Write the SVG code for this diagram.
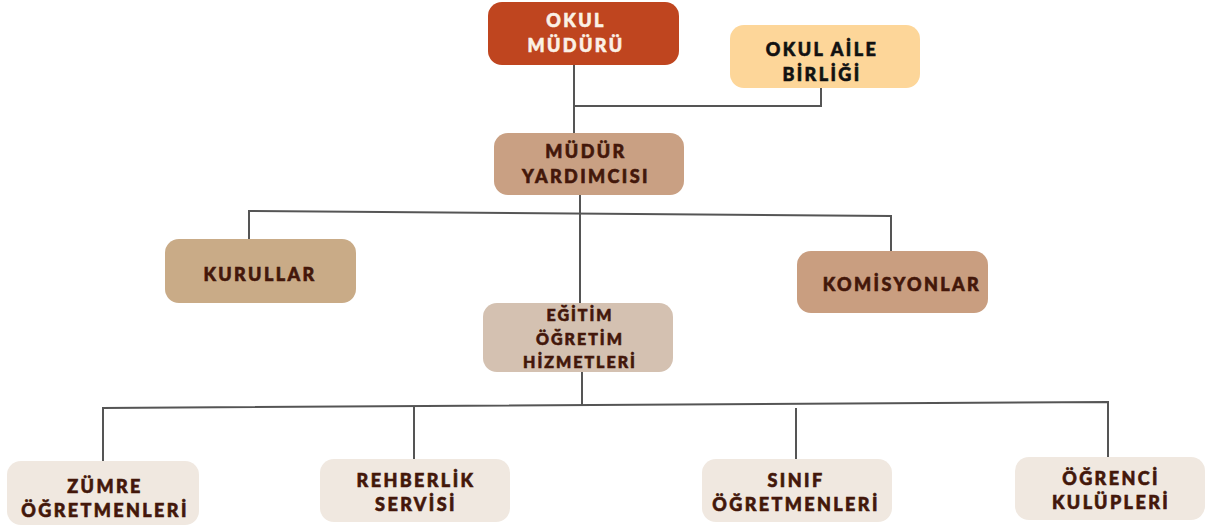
<svg xmlns="http://www.w3.org/2000/svg" width="1207" height="530" viewBox="0 0 1207 530">
<style>
.t{font-family:Lato,"Liberation Sans",sans-serif;font-weight:900;font-size:18px;letter-spacing:2.4px;text-anchor:middle;fill:#43170a;stroke:#43170a;stroke-width:0.6px}
.s{font-size:16px;letter-spacing:2px}
.w{fill:#fbf1e6;stroke:#fbf1e6}
.k{fill:#111;stroke:#111}
.c{fill:none;stroke:#555;stroke-width:2}
</style>
<rect width="1207" height="530" fill="#fff"/>
<g id="connectors">
<polyline class="c" points="574,65 574,106 821,106 821,88"/>
<line class="c" x1="574" y1="106" x2="574" y2="133"/>
<line class="c" x1="580" y1="195" x2="580" y2="303"/>
<polyline class="c" points="249,240 249,211 891,216 891,251"/>
<line class="c" x1="582" y1="372" x2="582" y2="405"/>
<polyline class="c" points="103,461 103,408 1108,402 1108,458"/>
<line class="c" x1="414" y1="406" x2="414" y2="459"/>
<line class="c" x1="796" y1="408" x2="796" y2="459"/>
</g>
<g id="okul-muduru">
<rect x="488" y="2" width="191" height="63" rx="14" fill="#bf451f"/>
<text class="t w" x="576" y="27">OKUL</text>
<text class="t w" x="576" y="52">MÜDÜRÜ</text>
</g>
<g id="okul-aile-birligi">
<rect x="730" y="25" width="190" height="63" rx="14" fill="#fdd699"/>
<text class="t k" x="822" y="56">OKUL AİLE</text>
<text class="t k" x="822" y="81">BİRLİĞİ</text>
</g>
<g id="mudur-yardimcisi">
<rect x="494" y="133" width="190" height="62" rx="14" fill="#c9a083"/>
<text class="t" x="586" y="158">MÜDÜR</text>
<text class="t" x="586" y="183">YARDIMCISI</text>
</g>
<g id="kurullar">
<rect x="165" y="239" width="191" height="64" rx="14" fill="#c9ab87"/>
<text class="t" x="260" y="281">KURULLAR</text>
</g>
<g id="komisyonlar">
<rect x="797" y="251" width="191" height="62" rx="14" fill="#c99e80"/>
<text class="t" x="902" y="291">KOMİSYONLAR</text>
</g>
<g id="egitim-ogretim">
<rect x="483" y="303" width="190" height="69" rx="14" fill="#d4c1b1"/>
<text class="t s" x="580" y="321">EĞİTİM</text>
<text class="t s" x="580" y="345">ÖĞRETİM</text>
<text class="t s" x="580" y="368">HİZMETLERİ</text>
</g>
<g id="zumre">
<rect x="7" y="461" width="192" height="64" rx="14" fill="#f0e8e0"/>
<text class="t" x="105" y="493">ZÜMRE</text>
<text class="t" x="105" y="517">ÖĞRETMENLERİ</text>
</g>
<g id="rehberlik">
<rect x="320" y="459" width="190" height="63" rx="14" fill="#f0e8e0"/>
<text class="t" x="416" y="487">REHBERLİK</text>
<text class="t" x="416" y="511">SERVİSİ</text>
</g>
<g id="sinif">
<rect x="702" y="459" width="190" height="63" rx="14" fill="#f0e8e0"/>
<text class="t" x="796" y="487">SINIF</text>
<text class="t" x="796" y="511">ÖĞRETMENLERİ</text>
</g>
<g id="ogrenci">
<rect x="1015" y="457" width="190" height="63" rx="14" fill="#f0e8e0"/>
<text class="t" x="1111" y="485">ÖĞRENCİ</text>
<text class="t" x="1111" y="509">KULÜPLERİ</text>
</g>
</svg>
